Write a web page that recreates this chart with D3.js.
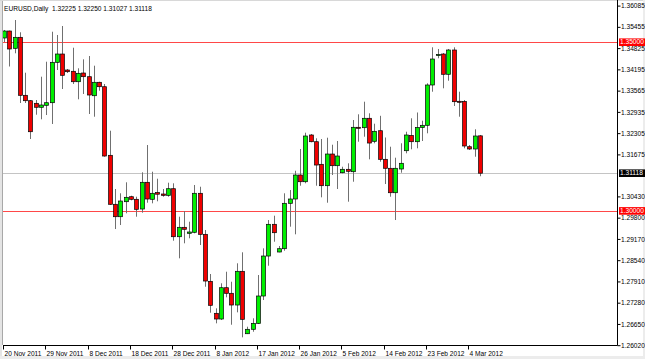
<!DOCTYPE html>
<html><head><meta charset="utf-8">
<script src="https://cdn.jsdelivr.net/npm/d3@7"></script>
<style>html,body{margin:0;padding:0;background:#fff;overflow:hidden}text{font-family:"Liberation Sans",Arial,sans-serif}</style>
</head><body><svg id="c" width="645" height="359"></svg>
<script>
const opens=[
1.35125,1.35332,1.34819,1.35145,1.33426,1.33266,1.33189,1.33071,1.33130,1.33207,
1.34404,1.34650,1.34176,1.34138,1.33829,1.34087,1.33978,1.33414,1.33812,1.33681,
1.31648,1.30196,1.29828,1.30273,1.30421,1.30344,1.30056,1.30848,1.30344,1.30545,
1.30501,1.30462,1.30658,1.29235,1.29514,1.29336,1.29366,1.30522,1.29306,1.27913,
1.26965,1.26796,1.27724,1.27558,1.27211,1.28210,1.26360,1.26491,1.26668,1.27478,
1.28663,1.29603,1.28782,1.28880,1.30225,1.30353,1.31064,1.30865,1.32250,1.32051,
1.31381,1.30747,1.31686,1.31340,1.31132,1.31233,1.31162,1.32478,1.32466,1.32745,
1.32063,1.32377,1.31529,1.31263,1.30539,1.31242,1.31784,1.32235,1.32051,1.32472,
1.32537,1.33732,1.34621,1.34650,1.34049,1.34769,1.33249,1.33243,1.31903,1.31835,
1.32225];
const highs=[
1.35362,1.35344,1.35658,1.35294,1.34096,1.33287,1.33287,1.33978,1.34422,1.35311,
1.35214,1.35480,1.34206,1.34837,1.34227,1.34493,1.34591,1.34304,1.33829,1.33761,
1.32377,1.30649,1.30522,1.30848,1.30450,1.30421,1.31144,1.31953,1.31162,1.30954,
1.30649,1.30836,1.30818,1.29828,1.29997,1.29680,1.30768,1.30717,1.29434,1.28130,
1.27113,1.27854,1.28198,1.27901,1.28447,1.28773,1.26568,1.26817,1.28100,1.28891,
1.29730,1.29858,1.28960,1.30522,1.30619,1.31191,1.31835,1.32318,1.32279,1.32152,
1.32131,1.32170,1.31962,1.32072,1.31310,1.31411,1.32694,1.32863,1.33237,1.32893,
1.32585,1.32819,1.32176,1.31903,1.31577,1.32004,1.32347,1.32745,1.32917,1.32674,
1.33782,1.34849,1.34799,1.34680,1.34799,1.34849,1.33533,1.33287,1.31953,1.32419,
1.32250];
const lows=[
1.35006,1.34280,1.34671,1.33198,1.33198,1.32131,1.32851,1.32715,1.32842,1.32576,
1.34176,1.33613,1.34087,1.33761,1.33308,1.33465,1.32872,1.32792,1.33563,1.31606,
1.30175,1.29463,1.29582,1.29929,1.30314,1.29828,1.29947,1.30243,1.30225,1.30285,
1.30421,1.30421,1.29117,1.28595,1.29040,1.29188,1.29336,1.28989,1.27753,1.26983,
1.26668,1.26766,1.27439,1.26627,1.26994,1.26253,1.26351,1.26419,1.26648,1.27359,
1.28376,1.29087,1.28773,1.28820,1.29532,1.29306,1.30747,1.30818,1.32033,1.30747,
1.30403,1.30243,1.31064,1.30649,1.31114,1.30273,1.30865,1.32051,1.32199,1.31529,
1.32004,1.31458,1.30797,1.30421,1.29730,1.31132,1.31707,1.31826,1.31855,1.32072,
1.32300,1.33533,1.34523,1.33634,1.33859,1.33109,1.32792,1.31855,1.31805,1.31606,
1.31027];
const closes=[
1.35332,1.34799,1.35145,1.33426,1.33266,1.32347,1.33071,1.33139,1.33207,1.34404,
1.34650,1.34019,1.34126,1.33829,1.34078,1.33978,1.33435,1.33812,1.33681,1.31627,
1.30196,1.29828,1.30293,1.30403,1.30344,1.30047,1.30848,1.30353,1.30522,1.30495,
1.30462,1.30658,1.29235,1.29514,1.29455,1.29375,1.30522,1.29306,1.27922,1.27202,
1.26796,1.27724,1.27558,1.27211,1.28210,1.26787,1.26491,1.26668,1.27478,1.28663,
1.29603,1.29354,1.28880,1.30225,1.30353,1.31064,1.30865,1.32220,1.32051,1.31360,
1.30747,1.31686,1.31340,1.31627,1.31233,1.31174,1.32478,1.32463,1.32745,1.32012,
1.32359,1.31529,1.31263,1.30539,1.31263,1.31411,1.32250,1.32051,1.32472,1.32537,
1.33732,1.34502,1.34636,1.34049,1.34769,1.33237,1.33237,1.31924,1.31835,1.32220,
1.31118];
const xTickIdx=[0,8,16,24,32,40,48,56,64,72,80,88];
const xTickLabels=["20 Nov 2011","29 Nov 2011","8 Dec 2011","18 Dec 2011","28 Dec 2011","8 Jan 2012","17 Jan 2012","26 Jan 2012","5 Feb 2012","14 Feb 2012","23 Feb 2012","4 Mar 2012"];
const yTickValues=[1.36085,1.35455,1.34825,1.34195,1.33565,1.32935,1.32305,1.31675,1.30430,1.29800,1.29170,1.28540,1.27910,1.27280,1.26650,1.26020];
const levelLines=[1.35000,1.30000];
const lastPrice=1.31118;
const titleText="EURUSD,Daily  1.32225 1.32250 1.31027 1.31118";

const svg=d3.select("#c");
const W=645,H=359;
const plotL=3,plotR=617,plotB=345;
const x=d3.scaleLinear().domain([0,90]).range([4,480]);
const y=d3.scaleLinear().domain([1.26020,1.36085]).range([345.2,5.6]);
const cx=i=>Math.round(x(i))+0.5;
const cy=v=>Math.round(y(v))+0.5;

// frame
svg.append("rect").attr("x",0).attr("y",0).attr("width",W).attr("height",H).attr("fill","#fff");
svg.append("rect").attr("x",0).attr("y",0).attr("width",2).attr("height",H).attr("fill","#e4e4e4");
svg.append("line").attr("x1",2.5).attr("x2",2.5).attr("y1",0).attr("y2",plotB).attr("stroke","#a8a8a8");
svg.append("line").attr("x1",0).attr("x2",W).attr("y1",0.5).attr("y2",0.5).attr("stroke","#d8d8d8");
svg.append("rect").attr("x",0).attr("y",H-3).attr("width",W).attr("height",3).attr("fill","#ececec");
svg.append("rect").attr("x",W-2).attr("y",0).attr("width",2).attr("height",H).attr("fill","#ececec");

svg.append("defs").append("clipPath").attr("id","pc").append("rect")
  .attr("x",plotL).attr("y",0).attr("width",plotR-plotL).attr("height",plotB);
const plot=svg.append("g").attr("clip-path","url(#pc)");

// horizontal lines
plot.selectAll("line.lvl").data(levelLines).join("line").attr("class","lvl")
  .attr("x1",plotL).attr("x2",plotR).attr("y1",d=>cy(d)).attr("y2",d=>cy(d))
  .attr("stroke","#ff4848").attr("stroke-width",1);
plot.append("line").attr("x1",plotL).attr("x2",plotR).attr("y1",cy(lastPrice)).attr("y2",cy(lastPrice))
  .attr("stroke","#c4c4c4").attr("stroke-width",1);

// candles
const idx=d3.range(opens.length);
plot.selectAll("line.wick").data(idx).join("line").attr("class","wick")
  .attr("x1",cx).attr("x2",cx).attr("y1",i=>y(highs[i])).attr("y2",i=>y(lows[i]))
  .attr("stroke","#707070").attr("stroke-width",1);
plot.selectAll("rect.body").data(idx).join("rect").attr("class","body")
  .attr("x",i=>cx(i)-1.9).attr("width",3.8)
  .attr("y",i=>y(Math.max(opens[i],closes[i])))
  .attr("height",i=>Math.max(Math.abs(y(opens[i])-y(closes[i])),1))
  .attr("fill",i=>closes[i]>=opens[i]?"#00f000":"#f00000")
  .attr("stroke","#000").attr("stroke-width",0.7);

// axes lines
svg.append("line").attr("x1",plotR+0.5).attr("x2",plotR+0.5).attr("y1",0).attr("y2",plotB+0.5).attr("stroke","#000");
svg.append("line").attr("x1",plotL).attr("x2",plotR+0.5).attr("y1",plotB+0.5).attr("y2",plotB+0.5).attr("stroke","#000");

const fs="6.6px";
// right axis
const ya=d3.axisRight(y).tickValues(yTickValues).tickSize(3).tickSizeOuter(0).tickFormat(d3.format(".5f"));
const yg=svg.append("g").attr("transform",`translate(${plotR+0.5},0)`).call(ya);
yg.select(".domain").remove();
yg.selectAll("line").attr("stroke","#000");
yg.selectAll("text").attr("x",3.5).style("font-size",fs).attr("fill","#000").attr("font-family",null);

// bottom axis
const xa=d3.axisBottom(x).tickValues(xTickIdx).tickSize(4).tickFormat((d,i)=>xTickLabels[i]);
const xg=svg.append("g").attr("transform",`translate(0,${plotB+0.5})`).call(xa);
xg.select(".domain").remove();
xg.selectAll(".tick").attr("transform",d=>`translate(${Math.round(x(d))-0.5},0)`);
xg.selectAll("line").attr("stroke","#000");
xg.selectAll("text").attr("text-anchor","start").attr("x",1).attr("y",6).style("font-size",fs).attr("fill","#000").attr("font-family",null);

// price boxes
const boxes=levelLines.map(v=>({v,bg:"#ff0000"})).concat([{v:lastPrice,bg:"#000"}]);
const bg=svg.selectAll("g.box").data(boxes).join("g").attr("class","box");
bg.append("rect").attr("x",plotR+2).attr("y",d=>y(d.v)-3.8).attr("width",W-plotR-2).attr("height",7.6).attr("fill",d=>d.bg);
bg.append("text").attr("x",plotR+3).attr("y",d=>y(d.v)).attr("dy","0.34em").style("font-size",fs).attr("fill","#fff").text(d=>d3.format(".5f")(d.v));

// title
svg.append("text").attr("x",4).attr("y",10.5).style("font-size",fs).style("white-space","pre").attr("fill","#000").text(titleText);
</script></body></html>
